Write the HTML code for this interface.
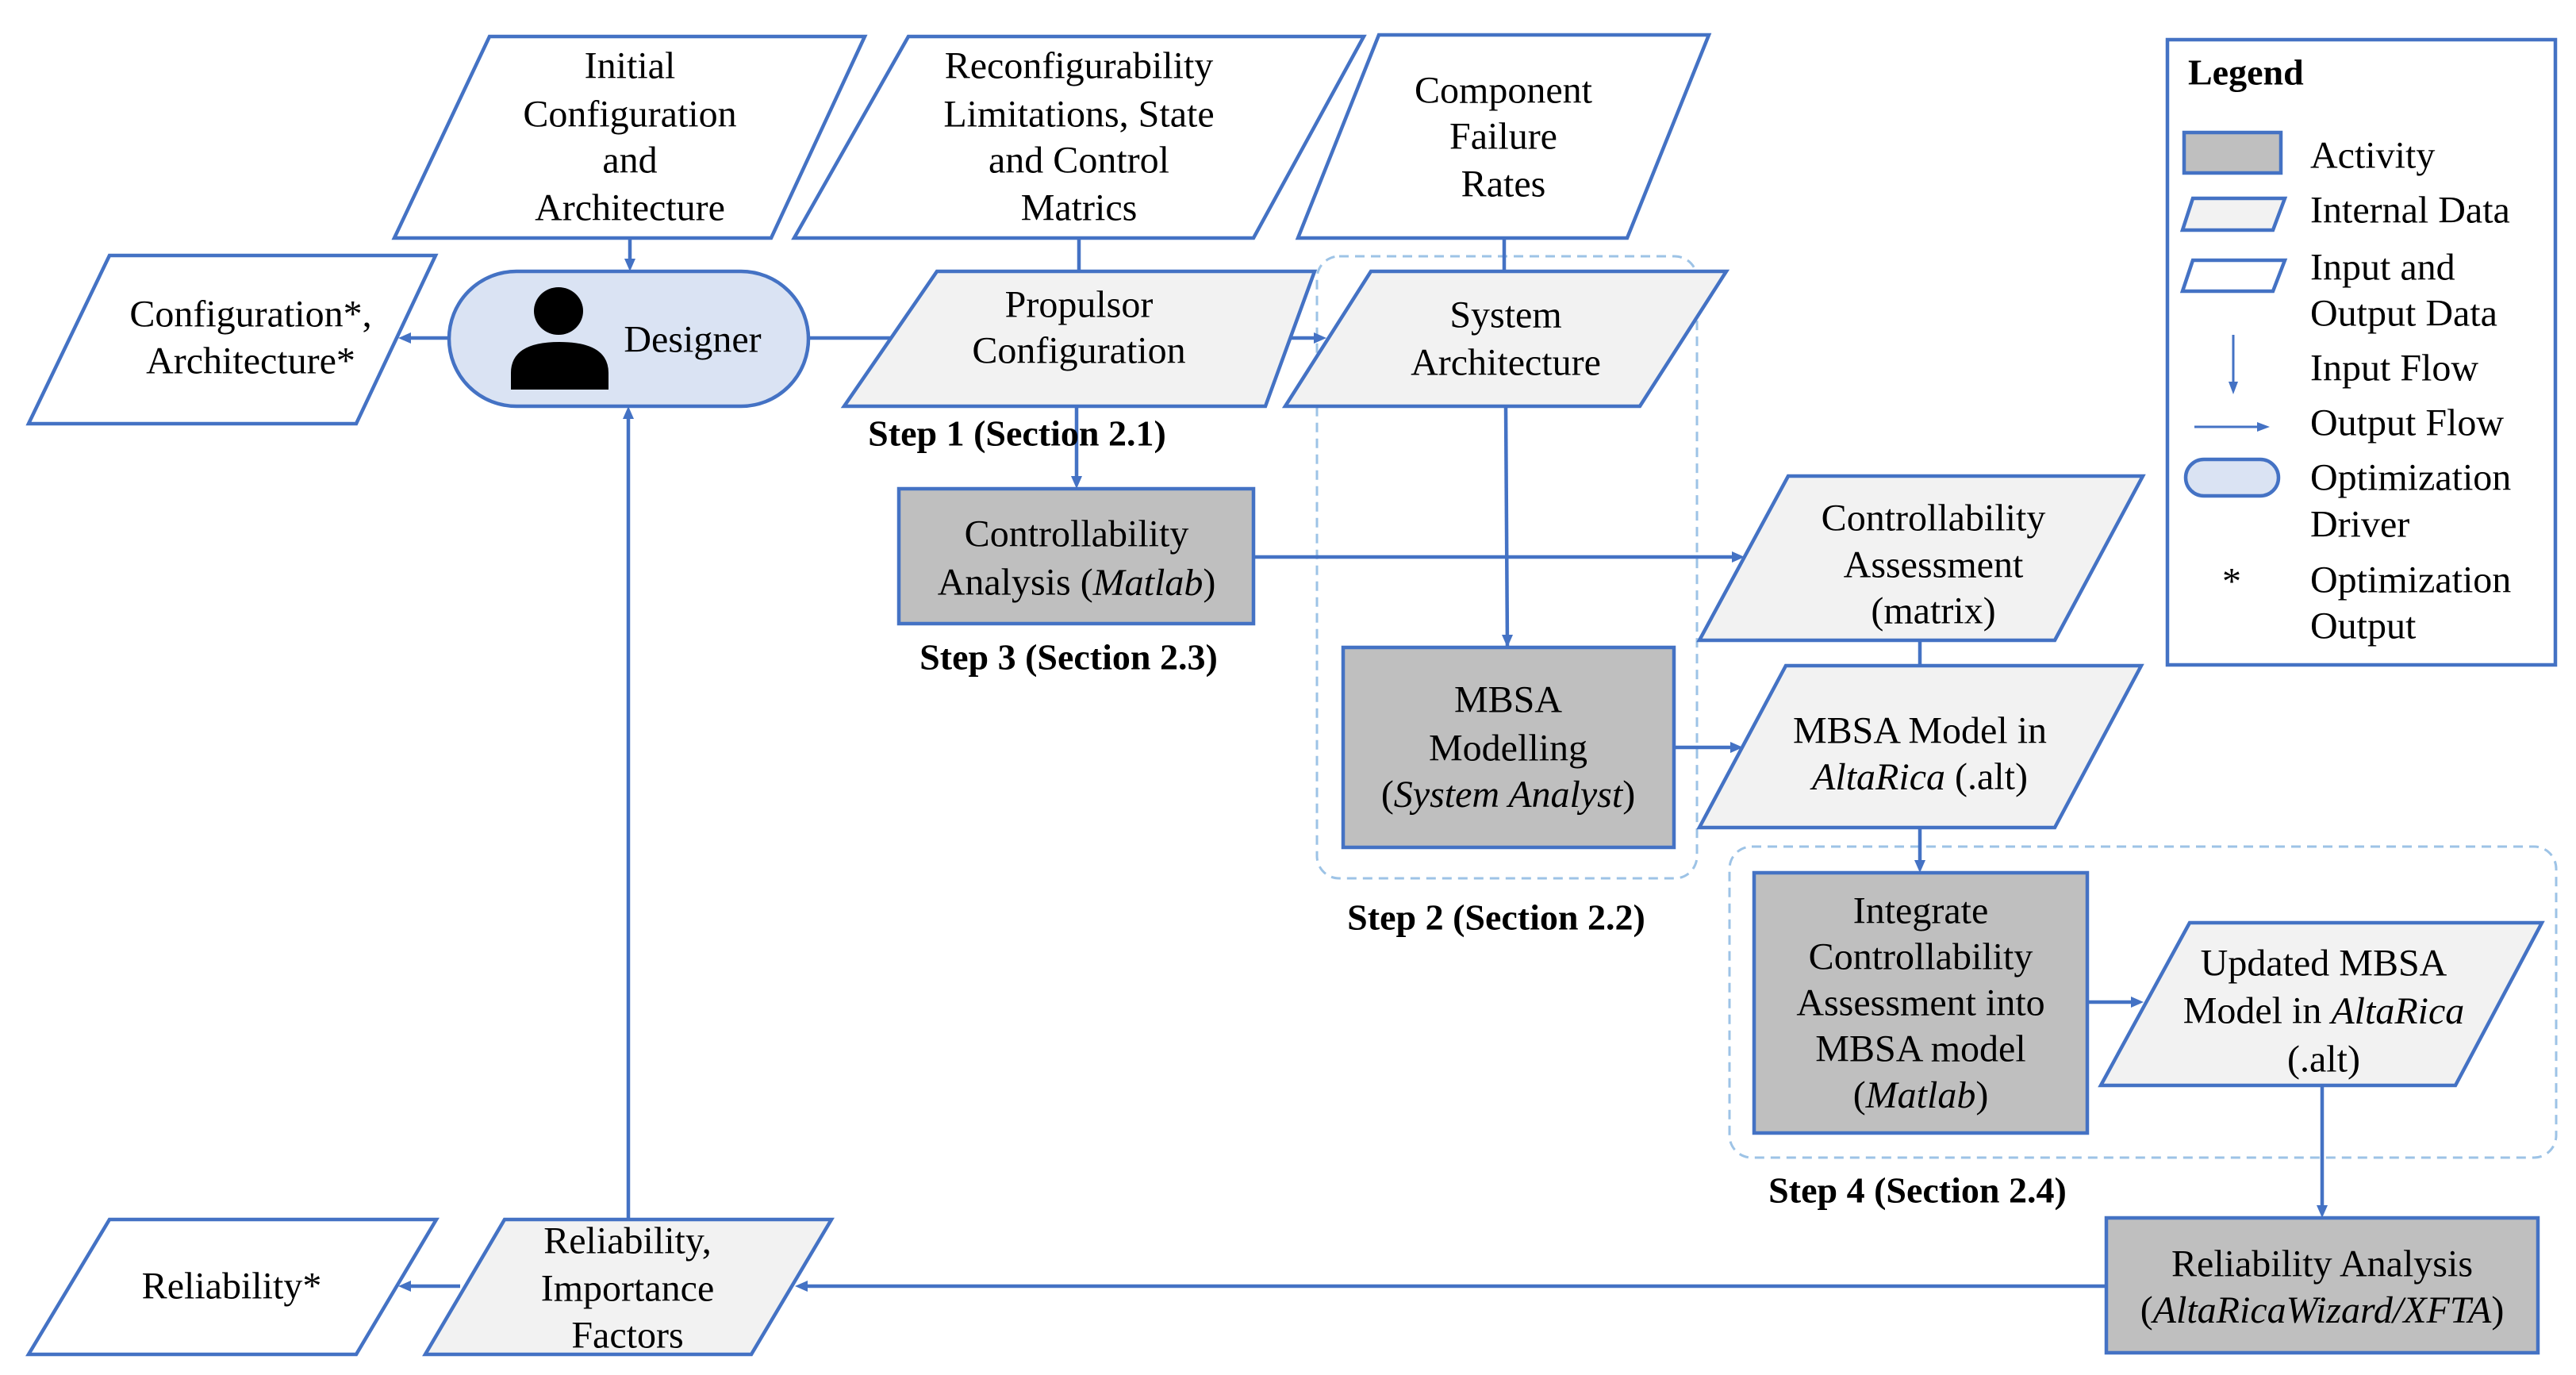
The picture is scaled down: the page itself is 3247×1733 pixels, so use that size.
<!DOCTYPE html>
<html><head><meta charset="utf-8"><style>
html,body{margin:0;padding:0;background:#fff}
svg{display:block}
text{font-family:"Liberation Serif",serif;font-size:48px;fill:#000;text-anchor:middle;dominant-baseline:central}
.b{font-weight:bold;font-size:46px}
.l{text-anchor:start}
</style></head><body>
<svg width="3247" height="1733" viewBox="0 0 3247 1733" xmlns="http://www.w3.org/2000/svg">
<defs>
<marker id="a" viewBox="0 0 10 10" refX="9" refY="5" markerWidth="5" markerHeight="5" orient="auto" markerUnits="userSpaceOnUse" style="overflow:visible">
</marker>
</defs>
<g stroke="#4472c4" stroke-width="4.5" fill="none">
<!-- dashed groups -->
<rect x="1660" y="323" width="479" height="784" rx="28" stroke="#9dc3e6" stroke-width="3" stroke-dasharray="12 8"/>
<rect x="2180" y="1067" width="1042" height="392" rx="28" stroke="#9dc3e6" stroke-width="3" stroke-dasharray="12 8"/>
<!-- lines -->
<line x1="794" y1="300" x2="794" y2="330"/>
<line x1="1360" y1="300" x2="1360" y2="342"/>
<line x1="1896" y1="300" x2="1896" y2="342"/>
<line x1="566" y1="426" x2="512" y2="426"/>
<line x1="1019" y1="426" x2="1125" y2="426"/>
<line x1="1605" y1="426" x2="1660" y2="426"/>
<line x1="1357" y1="512" x2="1357" y2="602"/>
<line x1="1580" y1="702" x2="2185" y2="702"/>
<line x1="1898" y1="512" x2="1900" y2="816"/>
<line x1="2110" y1="942" x2="2183" y2="942"/>
<line x1="2420" y1="807" x2="2420" y2="839"/>
<line x1="2420" y1="1043" x2="2420" y2="1090"/>
<line x1="2631" y1="1263" x2="2688" y2="1263"/>
<line x1="2927" y1="1368" x2="2927" y2="1522"/>
<line x1="2655" y1="1621" x2="1015" y2="1621"/>
<line x1="580" y1="1621" x2="515" y2="1621"/>
<line x1="792" y1="1537" x2="792" y2="525"/>
</g>
<g fill="#4472c4">
<polygon points="794,342 787,326 801,326"/>
<polygon points="502,426 518,419 518,433"/>
<polygon points="1672,426 1656,419 1656,433"/>
<polygon points="1357,616 1350,600 1364,600"/>
<polygon points="2199,702 2183,695 2183,709"/>
<polygon points="1900,816 1893,800 1907,800"/>
<polygon points="2197,942 2181,935 2181,949"/>
<polygon points="2420,1100 2413,1084 2427,1084"/>
<polygon points="2702,1263 2686,1256 2686,1270"/>
<polygon points="2927,1535 2920,1519 2934,1519"/>
<polygon points="1002,1621 1018,1614 1018,1628"/>
<polygon points="502,1621 518,1614 518,1628"/>
<polygon points="792,512 785,528 799,528"/>
</g>
<g stroke="#4472c4" stroke-width="4.5">
<polygon points="617,46 1090,46 972,300 497,300" fill="#fff"/>
<polygon points="1145,46 1719,46 1580,300 1001,300" fill="#fff"/>
<polygon points="1738,44 2154,44 2051,300 1636,300" fill="#fff"/>
<polygon points="138,322 549,322 449,534 36,534" fill="#fff"/>
<rect x="566" y="342" width="453" height="170" rx="85" fill="#dae3f3"/>
<polygon points="1181,342 1657,342 1595,512 1064,512" fill="#f2f2f2"/>
<polygon points="1728,342 2176,342 2067,512 1620,512" fill="#f2f2f2"/>
<rect x="1133" y="616" width="447" height="170" fill="#bfbfbf"/>
<polygon points="2254,600 2701,600 2590,807 2142,807" fill="#f2f2f2"/>
<rect x="1693" y="816" width="417" height="252" fill="#bfbfbf"/>
<polygon points="2251,839 2699,839 2590,1043 2142,1043" fill="#f2f2f2"/>
<rect x="2211" y="1100" width="420" height="328" fill="#bfbfbf"/>
<polygon points="2760,1163 3204,1163 3095,1368 2648,1368" fill="#f2f2f2"/>
<rect x="2655" y="1535" width="544" height="170" fill="#bfbfbf"/>
<polygon points="636,1537 1048,1537 947,1707 536,1707" fill="#f2f2f2"/>
<polygon points="138,1537 550,1537 449,1707 36,1707" fill="#fff"/>
<!-- legend -->
<rect x="2732" y="50" width="489" height="788" fill="#fff"/>
<rect x="2753" y="167" width="122" height="51" fill="#bfbfbf"/>
<polygon points="2764,250 2880,250 2865,290 2751,290" fill="#f2f2f2"/>
<polygon points="2764,328 2880,328 2865,367 2751,367" fill="#fff"/>
<rect x="2755" y="579" width="117" height="46" rx="23" fill="#dae3f3"/>
</g>
<g stroke="#4472c4" stroke-width="3"><line x1="2815" y1="422" x2="2815" y2="485"/><line x1="2766" y1="538" x2="2848" y2="538"/></g>
<g fill="#4472c4"><polygon points="2815,497 2809,481 2821,481"/><polygon points="2861,538 2845,532 2845,544"/></g>
<!-- person -->
<ellipse cx="704" cy="392" rx="31" ry="30" fill="#000"/>
<path d="M644,491 L644,470 Q644,431 705,431 Q767,431 767,470 L767,491 Z" fill="#000"/>
<!-- text -->
<text x="794" y="83">Initial</text><text x="794" y="144">Configuration</text><text x="794" y="202">and</text><text x="794" y="262">Architecture</text>
<text x="1360" y="83">Reconfigurability</text><text x="1360" y="144">Limitations, State</text><text x="1360" y="202">and Control</text><text x="1360" y="262">Matrics</text>
<text x="1895" y="114">Component</text><text x="1895" y="172">Failure</text><text x="1895" y="232">Rates</text>
<text x="316" y="396">Configuration*,</text><text x="316" y="455">Architecture*</text>
<text x="873" y="428">Designer</text>
<text x="1360" y="384">Propulsor</text><text x="1360" y="442">Configuration</text>
<text x="1898" y="397">System</text><text x="1898" y="457">Architecture</text>
<text class="b" x="1282" y="546">Step 1 (Section 2.1)</text>
<text x="1357" y="673">Controllability</text><text x="1357" y="734">Analysis (<tspan font-style="italic">Matlab</tspan>)</text>
<text class="b" x="1347" y="828">Step 3 (Section 2.3)</text>
<text x="2437" y="653">Controllability</text><text x="2437" y="712">Assessment</text><text x="2437" y="770">(matrix)</text>
<text x="1901" y="882">MBSA</text><text x="1901" y="943">Modelling</text><text x="1901" y="1001">(<tspan font-style="italic">System Analyst</tspan>)</text>
<text x="2420" y="921">MBSA Model in</text><text x="2420" y="979"><tspan font-style="italic">AltaRica</tspan> (.alt)</text>
<text class="b" x="1886" y="1156">Step 2 (Section 2.2)</text>
<text x="2421" y="1148">Integrate</text><text x="2421" y="1206">Controllability</text><text x="2421" y="1264">Assessment into</text><text x="2421" y="1322">MBSA model</text><text x="2421" y="1380">(<tspan font-style="italic">Matlab</tspan>)</text>
<text x="2929" y="1214">Updated MBSA</text><text x="2929" y="1274">Model in <tspan font-style="italic">AltaRica</tspan></text><text x="2929" y="1335">(.alt)</text>
<text class="b" x="2417" y="1500">Step 4 (Section 2.4)</text>
<text x="2927" y="1593">Reliability  Analysis</text><text x="2927" y="1651">(<tspan font-style="italic">AltaRicaWizard/XFTA</tspan>)</text>
<text x="791" y="1564">Reliability,</text><text x="791" y="1624">Importance</text><text x="791" y="1683">Factors</text>
<text x="292" y="1621">Reliability*</text>
<text class="b l" x="2758" y="91">Legend</text>
<text class="l" x="2912" y="196">Activity</text>
<text class="l" x="2912" y="265">Internal Data</text>
<text class="l" x="2912" y="337">Input and</text><text class="l" x="2912" y="395">Output Data</text>
<text class="l" x="2912" y="464">Input Flow</text>
<text class="l" x="2912" y="533">Output Flow</text>
<text class="l" x="2912" y="602">Optimization</text><text class="l" x="2912" y="661">Driver</text>
<text x="2813" y="733">*</text>
<text class="l" x="2912" y="731">Optimization</text><text class="l" x="2912" y="789">Output</text>
</svg>
</body></html>
